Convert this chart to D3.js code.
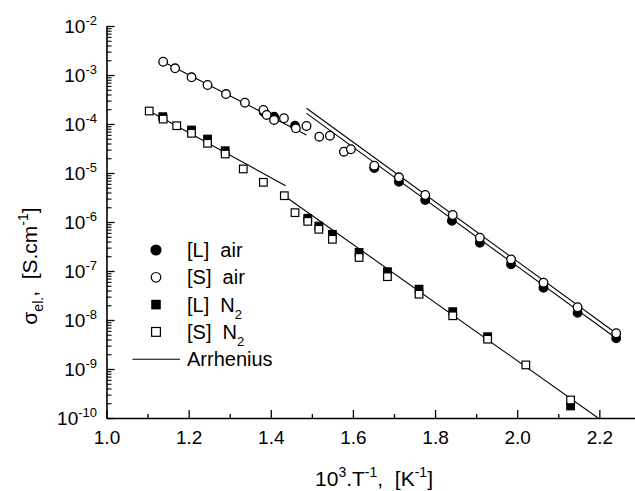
<!DOCTYPE html>
<html>
<head>
<meta charset="utf-8">
<script src="https://cdn.jsdelivr.net/npm/d3@7"></script>
<style>
  body { margin: 0; background: #fff; }
  svg text { font-family: "Liberation Sans", Arial, sans-serif; fill: #000; }
</style>
</head>
<body>
<div id="chart"></div>
<script>
// [L] air (filled circles)
const airL_x = [1.383, 1.408, 1.459, 1.652, 1.712, 1.776, 1.841, 1.909, 1.985, 2.064, 2.147, 2.241];
const airL_y = [1.76e-4, 1.41e-4, 9.23e-5, 1.26e-5, 6.64e-6, 2.81e-6, 1.06e-6, 3.78e-7, 1.37e-7, 4.56e-8, 1.41e-8, 4.24e-9];

// [S] air (open circles)
const airS_x = [1.138, 1.167, 1.207, 1.246, 1.291, 1.337, 1.382, 1.390, 1.408, 1.432, 1.461, 1.487, 1.518, 1.544,
                1.578, 1.595, 1.652, 1.712, 1.776, 1.843, 1.909, 1.985, 2.064, 2.147, 2.241];
const airS_y = [1.87e-3, 1.37e-3, 8.97e-4, 6.25e-4, 4.09e-4, 2.72e-4, 1.93e-4, 1.53e-4, 1.21e-4, 1.31e-4, 8.17e-5, 9.1e-5, 5.5e-5, 5.77e-5,
                2.72e-5, 3.05e-5, 1.41e-5, 8.17e-6, 3.56e-6, 1.39e-6, 4.79e-7, 1.73e-7, 5.77e-8, 1.82e-8, 5.36e-9];

// [L] N2 (filled squares)
const n2L_x = [1.137, 1.207, 1.246, 1.289, 1.490, 1.517, 1.550, 1.615, 1.684, 1.761, 1.843, 1.928, 2.130];
const n2L_y = [1.41e-4, 7.55e-5, 4.94e-5, 2.85e-5, 1.19e-6, 8.28e-7, 5.61e-7, 2.39e-7, 9.68e-8, 4.26e-8, 1.48e-8, 4.56e-9, 1.76e-10];

// [S] N2 (open squares)
const n2S_x = [1.104, 1.138, 1.171, 1.207, 1.246, 1.289, 1.333, 1.382, 1.433, 1.459, 1.490, 1.517, 1.550, 1.615,
               1.684, 1.761, 1.843, 1.928, 2.021, 2.130];
const n2S_y = [1.84e-4, 1.26e-4, 9.23e-5, 6.46e-5, 4.04e-5, 2.44e-5, 1.21e-5, 6.46e-6, 3.44e-6, 1.55e-6, 1.03e-6, 7.1e-7, 4.44e-7, 1.89e-7,
               7.66e-8, 3.36e-8, 1.22e-8, 4.06e-9, 1.21e-9, 2.33e-10];

// Arrhenius fits, each a pair of end points [x, sigma]
const fits = [
  [[1.138, 1.86e-3], [1.487, 5.97e-5]],
  [[1.487, 2.09e-4], [2.241, 5.36e-9]],
  [[1.487, 1.65e-4], [2.241, 4.24e-9]],
  [[1.104, 1.84e-4], [1.436, 5.51e-6]],
  [[1.436, 3.28e-6], [2.197, 1.0e-10]]
];

const xMajor = [1.0, 1.2, 1.4, 1.6, 1.8, 2.0, 2.2];
const xMinor = [1.1, 1.3, 1.5, 1.7, 1.9, 2.1];
const yExps = [-2, -3, -4, -5, -6, -7, -8, -9, -10];

const width = 635, height = 491;

const svg = d3.select("#chart").append("svg")
    .attr("width", width)
    .attr("height", height);

const x = d3.scaleLinear()
    .domain([1.0, 2.2868])
    .range([106.5, 635]);

const y = d3.scaleLog()
    .domain([1e-10, 1e-2])
    .range([418, 26]);

// minor ticks on the log axis
const yMinor = [];
yExps.slice(1).forEach(e => { for (let k = 2; k <= 9; k++) yMinor.push(k * Math.pow(10, e)); });

// x axis
svg.append("g")
    .attr("transform", "translate(0,418)")
    .call(d3.axisBottom(x).tickValues(xMinor).tickSize(-4).tickSizeOuter(0).tickFormat(""))
    .call(g => g.selectAll("line").attr("stroke-width", 1.3));

const xAxis = svg.append("g")
    .attr("transform", "translate(0,418)")
    .call(d3.axisBottom(x).tickValues(xMajor).tickSize(-8).tickSizeOuter(0).tickFormat(d3.format(".1f")));
xAxis.select(".domain").attr("stroke-width", 1.6);
xAxis.selectAll("line").attr("stroke-width", 1.3);
xAxis.selectAll("text")
    .attr("y", 26).attr("dy", null)
    .style("font-size", "19px");

// y axis
svg.append("g")
    .attr("transform", "translate(106.5,0)")
    .call(d3.axisLeft(y).tickValues(yMinor).tickSize(-5).tickSizeOuter(0).tickFormat(""))
    .call(g => g.select(".domain").remove())
    .call(g => g.selectAll("line").attr("stroke-width", 1.1));

const yAxis = svg.append("g")
    .attr("transform", "translate(106.5,0)")
    .call(d3.axisLeft(y).tickValues(yExps.map(e => Math.pow(10, e))).tickSize(-8).tickSizeOuter(0).tickFormat(""));
yAxis.select(".domain").attr("stroke-width", 1.6);
yAxis.selectAll("line").attr("stroke-width", 1.3);

// decade labels 10^n
const yLab = svg.selectAll("text.yLab").data(yExps)
    .enter().append("text")
    .attr("class", "yLab")
    .attr("x", 97)
    .attr("y", d => y(Math.pow(10, d)) + 6.5)
    .attr("text-anchor", "end")
    .style("font-size", "19px");
yLab.append("tspan").text("10");
yLab.append("tspan").attr("dy", -8).style("font-size", "13px").text(d => "-" + Math.abs(d));

// fit lines
svg.selectAll("line.fit").data(fits)
    .enter().append("line")
    .attr("class", "fit")
    .attr("x1", d => x(d[0][0])).attr("y1", d => y(d[0][1]))
    .attr("x2", d => x(d[1][0])).attr("y2", d => y(d[1][1]))
    .attr("stroke", "#000")
    .attr("stroke-width", 1.1);

function circles(xs, ys, fill) {
  svg.append("g").selectAll("circle").data(xs)
      .enter().append("circle")
      .attr("cx", d => x(d))
      .attr("cy", (d, i) => y(ys[i]))
      .attr("r", 4.3)
      .attr("fill", fill)
      .attr("stroke", "#000")
      .attr("stroke-width", 1.3);
}

function squares(xs, ys, fill) {
  const s = 7.6;
  svg.append("g").selectAll("rect").data(xs)
      .enter().append("rect")
      .attr("x", d => x(d) - s / 2)
      .attr("y", (d, i) => y(ys[i]) - s / 2)
      .attr("width", s)
      .attr("height", s)
      .attr("fill", fill)
      .attr("stroke", "#000")
      .attr("stroke-width", 1.2);
}

circles(airL_x, airL_y, "#000");
circles(airS_x, airS_y, "#fff");
squares(n2L_x, n2L_y, "#000");
squares(n2S_x, n2S_y, "#fff");

// legend
const lx = 156, tx = 187, ly0 = 250, lstep = 27.3;
const legend = svg.append("g");

legend.append("circle").attr("cx", lx).attr("cy", ly0).attr("r", 5.6).attr("fill", "#000");
legend.append("circle").attr("cx", lx).attr("cy", ly0 + lstep).attr("r", 4.8)
    .attr("fill", "#fff").attr("stroke", "#000").attr("stroke-width", 1.2);
legend.append("rect").attr("x", lx - 4.8).attr("y", ly0 + 2 * lstep - 4.8).attr("width", 9.6).attr("height", 9.6).attr("fill", "#000");
legend.append("rect").attr("x", lx - 4.4).attr("y", ly0 + 3 * lstep - 4.4).attr("width", 8.8).attr("height", 8.8)
    .attr("fill", "#fff").attr("stroke", "#000").attr("stroke-width", 1.2);
legend.append("line").attr("x1", 132.5).attr("x2", 180).attr("y1", ly0 + 4 * lstep).attr("y2", ly0 + 4 * lstep)
    .attr("stroke", "#000").attr("stroke-width", 1.1);

const labels = ["[L]  air", "[S]  air", "[L]  N", "[S]  N", "Arrhenius"];
labels.forEach((t, i) => {
  const txt = legend.append("text")
      .attr("x", tx)
      .attr("y", ly0 + i * lstep + 7)
      .style("font-size", "20px")
      .style("white-space", "pre");
  txt.append("tspan").text(t);
  if (i === 2 || i === 3) txt.append("tspan").attr("dy", 7).style("font-size", "13px").text("2");
});

// axis titles
const xt = svg.append("text")
    .attr("x", 374)
    .attr("y", 486)
    .attr("text-anchor", "middle")
    .style("font-size", "21px")
    .style("white-space", "pre");
xt.append("tspan").text("10");
xt.append("tspan").attr("dy", -9).style("font-size", "14px").text("3");
xt.append("tspan").attr("dy", 9).text(".T");
xt.append("tspan").attr("dy", -9).style("font-size", "14px").text("-1");
xt.append("tspan").attr("dy", 9).text(",  [K");
xt.append("tspan").attr("dy", -9).style("font-size", "14px").text("-1");
xt.append("tspan").attr("dy", 9).text("]");

const yt = svg.append("text")
    .attr("transform", "translate(37,266) rotate(-90)")
    .attr("text-anchor", "middle")
    .style("font-size", "21px")
    .style("white-space", "pre");
yt.append("tspan").text("σ");
yt.append("tspan").attr("dy", 6).style("font-size", "14px").text("el.");
yt.append("tspan").attr("dy", -6).text(",  [S.cm");
yt.append("tspan").attr("dy", -9).style("font-size", "14px").text("-1");
yt.append("tspan").attr("dy", 9).text("]");
</script>
</body>
</html>
